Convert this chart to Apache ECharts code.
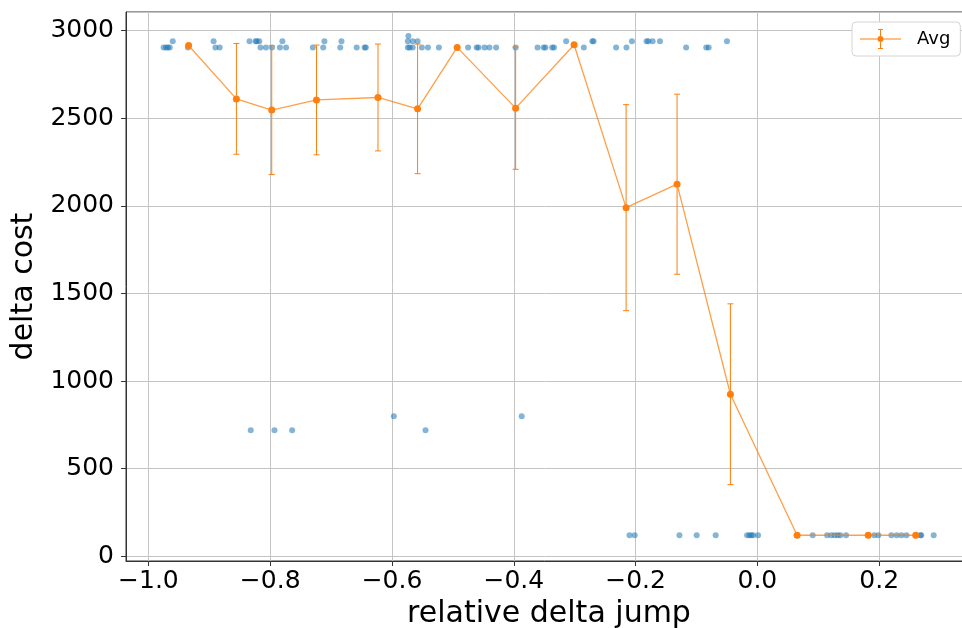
<!DOCTYPE html>
<html>
<head>
<meta charset="utf-8">
<script src="https://cdn.jsdelivr.net/npm/echarts@6/dist/echarts.min.js"></script>
<style>html,body{margin:0;padding:0;background:#fff;}#c{width:962px;height:628px;}</style>
</head>
<body>
<div id="c"></div>
<script>
// Scatter samples (relative delta jump, delta cost)
var scatterX = [
  -0.975,-0.971,-0.968,-0.965,-0.960,-0.935,-0.893,-0.890,-0.883,-0.834,-0.824,-0.822,-0.818,-0.816,
  -0.807,-0.797,-0.784,-0.780,-0.774,-0.730,-0.713,-0.711,-0.685,-0.683,-0.658,-0.645,-0.643,
  -0.573,-0.574,-0.566,-0.558,-0.574,-0.571,-0.566,-0.551,-0.541,-0.523,-0.493,-0.475,-0.461,-0.458,
  -0.448,-0.440,-0.429,-0.397,-0.361,-0.351,-0.348,-0.337,-0.334,-0.314,-0.285,-0.271,-0.269,
  -0.232,-0.215,-0.206,-0.182,-0.179,-0.172,-0.160,-0.117,-0.084,-0.080,-0.050,
  -0.832,-0.793,-0.764,-0.597,-0.545,-0.387,
  -0.210,-0.2015,-0.128,-0.0997,-0.0685,-0.0169,-0.013,-0.0099,-0.007,0.0011,0.065,0.0908,0.1145,
  0.1215,0.127,0.1319,0.1363,0.1456,0.182,0.192,0.1987,0.220,0.2287,0.2365,0.2447,0.260,0.2677,0.269,0.2895
];
var scatterY = [
  2905,2905,2905,2905,2940,2905,2940,2905,2905,2940,2940,2940,2940,2905,
  2905,2905,2905,2940,2905,2905,2905,2940,2905,2940,2905,2905,2905,
  2970,2940,2940,2940,2905,2905,2905,2905,2905,2905,2905,2905,2905,2905,
  2905,2905,2905,2905,2905,2905,2905,2905,2905,2940,2905,2940,2940,
  2905,2905,2940,2940,2940,2940,2940,2905,2905,2905,2940,
  720,720,720,800,720,800,
  120,120,120,120,120,120,120,120,120,120,120,120,120,
  120,120,120,120,120,120,120,120,120,120,120,120,120,120,120,120
];
// Averages with error (std)
var avgX = [-0.934,-0.8555,-0.7975,-0.724,-0.623,-0.558,-0.493,-0.397,-0.301,-0.2156,-0.1319,-0.0443,0.0652,0.182,0.260];
var avgY = [2916,2611,2547,2605,2619,2554,2905,2558,2920,1990,2124,925,120,120,120];
var avgErr = [0,316,368,313,305,370,0,349,0,588,514,516,0,0,0];

var FONT = 'DejaVu Sans';
var scatterData = scatterX.map(function(x,i){return [x, scatterY[i]];});
var avgData = avgX.map(function(x,i){return [x, avgY[i]];});
var errData = [];
avgX.forEach(function(x,i){ if (avgErr[i] > 0) errData.push([x, avgY[i]-avgErr[i], avgY[i]+avgErr[i]]); });

function fmtX(v){ return v.toFixed(1).replace('-', '\u2212'); }
function fmtY(v){ return String(Math.round(v)); }

var chart = echarts.init(document.getElementById('c'), null, {renderer:'canvas'});
chart.setOption({
  animation: false,
  backgroundColor: '#ffffff',
  grid: {left: 126, top: 12, width: 846, height: 549, show: true, borderColor: '#333', borderWidth: 1,
         backgroundColor: 'transparent', containLabel: false, outerBoundsMode: 'none'},
  legend: {
    show: true,
    left: 852, top: 22,
    padding: [7, 10, 7, 8],
    backgroundColor: '#ffffff',
    borderColor: '#d4d4d4', borderWidth: 1, borderRadius: 4,
    itemWidth: 41, itemHeight: 20,
    textStyle: {fontFamily: FONT, fontSize: 18, color: '#000', padding: [0,0,0,11]},
    data: [{name: 'Avg', icon: 'path://M0 9.5H41V10.5H0Z M20 0H21V20H20Z M18 0H23V1H18Z M18 19H23V20H18Z M17.5 10A3 3 0 1 1 23.5 10A3 3 0 1 1 17.5 10Z'}]
  },
  xAxis: {
    type: 'value', min: -1.0368, max: 0.3524, splitNumber: 7,
    axisLine: {show: true, onZero: false, lineStyle: {color: '#333', width: 1}},
    axisTick: {show: true, length: 5, lineStyle: {color: '#333'}},
    splitLine: {show: true, lineStyle: {color: '#c4c4c4', width: 1}},
    axisLabel: {fontFamily: FONT, fontSize: 25, color: '#000', margin: 8, showMinLabel: false, showMaxLabel: false, formatter: fmtX},
    name: 'relative delta jump', nameLocation: 'middle', nameGap: 38,
    nameTextStyle: {fontFamily: FONT, fontSize: 30, color: '#000'}
  },
  yAxis: {
    type: 'value', min: -27, max: 3107,
    axisLine: {show: true, onZero: false, lineStyle: {color: '#333', width: 1}},
    axisTick: {show: true, length: 5, lineStyle: {color: '#333'}},
    splitLine: {show: true, lineStyle: {color: '#c4c4c4', width: 1}},
    axisLabel: {fontFamily: FONT, fontSize: 25, color: '#000', margin: 12, showMinLabel: false, showMaxLabel: false, formatter: fmtY},
    name: 'delta cost', nameLocation: 'middle', nameGap: 87, nameRotate: 90,
    nameTextStyle: {fontFamily: FONT, fontSize: 30, color: '#000'}
  },
  series: [
    {
      name: 'samples', type: 'scatter', data: scatterData, symbol: 'circle', symbolSize: 6,
      itemStyle: {color: '#1f77b4', opacity: 0.55}, z: 2, silent: true
    },
    {
      name: 'err', type: 'custom', data: errData, z: 3, silent: true,
      renderItem: function(params, api){
        var x = api.value(0), lo = api.value(1), hi = api.value(2);
        var p1 = api.coord([x, hi]), p2 = api.coord([x, lo]);
        var cw = 3;
        var st = {stroke: '#ff7f0e', lineWidth: 1};
        return {type: 'group', children: [
          {type: 'line', shape: {x1: p1[0], y1: p1[1], x2: p2[0], y2: p2[1]}, style: st},
          {type: 'line', shape: {x1: p1[0]-cw, y1: p1[1], x2: p1[0]+cw, y2: p1[1]}, style: st},
          {type: 'line', shape: {x1: p2[0]-cw, y1: p2[1], x2: p2[0]+cw, y2: p2[1]}, style: st}
        ]};
      }
    },
    {
      name: 'Avg', type: 'line', data: avgData, symbol: 'circle', symbolSize: 7, showSymbol: true,
      itemStyle: {color: '#ff7f0e'},
      lineStyle: {color: '#ff7f0e', width: 1.3, opacity: 0.75},
      z: 4, silent: true
    }
  ]
});
</script>
</body>
</html>
